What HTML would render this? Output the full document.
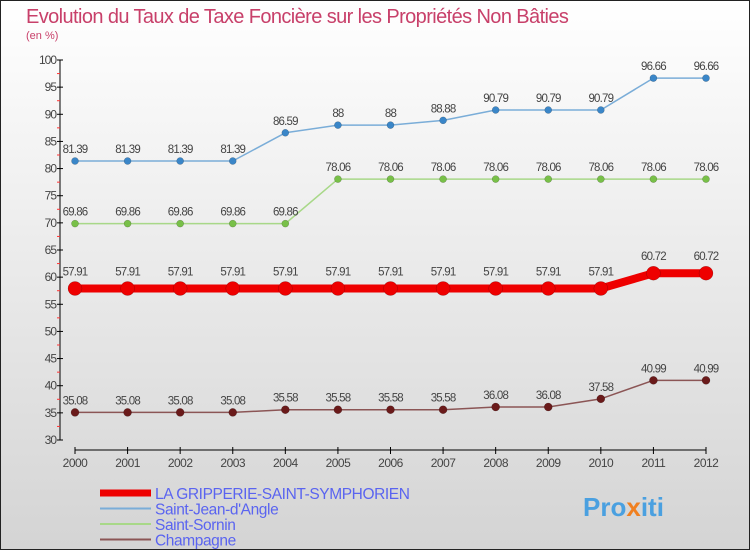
<!DOCTYPE html>
<html><head><meta charset="utf-8"><style>
html,body{margin:0;padding:0}
body{width:750px;height:550px;overflow:hidden;font-family:"Liberation Sans",sans-serif}
</style></head><body>
<svg width="750" height="550" xmlns="http://www.w3.org/2000/svg">
<defs><linearGradient id="bg" x1="0" y1="0" x2="0" y2="1"><stop offset="0" stop-color="#ffffff"/><stop offset="1" stop-color="#d4d4d4"/></linearGradient></defs>
<rect x="0.5" y="0.5" width="749" height="549" fill="url(#bg)" stroke="#222"/>
<text x="26" y="23" font-size="20" fill="#c8406a" letter-spacing="-0.6">Evolution du Taux de Taxe Foncière sur les Propriétés Non Bâties</text>
<text x="26" y="39" font-size="11" fill="#c8406a">(en %)</text>
<g id="axes"></g>
<g id="series"></g>
<g id="legend"></g>
<text x="583" y="516" font-size="26" font-weight="bold" fill="#4aa0e0">Pro<tspan fill="#f08020">x</tspan>iti</text>
</svg>
<script>
const years=[2000,2001,2002,2003,2004,2005,2006,2007,2008,2009,2010,2011,2012];
const yTicks=[30,35,40,45,50,55,60,65,70,75,80,85,90,95,100];
const seriesNames=["LA GRIPPERIE-SAINT-SYMPHORIEN","Saint-Jean-d'Angle","Saint-Sornin","Champagne"];
const gripperie=[57.91,57.91,57.91,57.91,57.91,57.91,57.91,57.91,57.91,57.91,57.91,60.72,60.72];
const saintJean=[81.39,81.39,81.39,81.39,86.59,88,88,88.88,90.79,90.79,90.79,96.66,96.66];
const saintSornin=[69.86,69.86,69.86,69.86,69.86,78.06,78.06,78.06,78.06,78.06,78.06,78.06,78.06];
const champagne=[35.08,35.08,35.08,35.08,35.58,35.58,35.58,35.58,36.08,36.08,37.58,40.99,40.99];
const NS="http://www.w3.org/2000/svg";
function X(i){return 75+i*(706-75)/12;}
function Y(v){return 440-(v-30)*(380/70);}
function mk(tag,attrs,parent){const e=document.createElementNS(NS,tag);for(const k in attrs)e.setAttribute(k,attrs[k]);parent.appendChild(e);return e;}
const axes=document.getElementById('axes');
let a=mk('line',{x1:60,y1:Y(100),x2:60,y2:440,stroke:'#000','stroke-width':1},axes);


yTicks.forEach((v,k)=>{
 mk('line',{x1:57,x2:63,y1:Y(v),y2:Y(v),stroke:'#000'},axes);
 if(k<yTicks.length-1) mk('line',{x1:57,x2:60,y1:Y(v+2.5),y2:Y(v+2.5),stroke:'#f33'},axes);
 const t=mk('text',{x:56,y:Y(v)+4,'font-size':12,'text-anchor':'end',fill:'#444','letter-spacing':'-1'},axes);
 t.textContent=v;
 
 
});
a=mk('line',{x1:75,y1:450,x2:706,y2:450,stroke:'#000'},axes);


years.forEach((y,i)=>{
 mk('line',{x1:X(i),x2:X(i),y1:447,y2:454,stroke:'#000'},axes);
 const t=mk('text',{x:X(i),y:467,'font-size':12,'text-anchor':'middle',fill:'#444','letter-spacing':'-0.5'},axes);
 t.textContent=y;
 
 
});
const sg=document.getElementById('series');
function draw(data,name,color,dot,w,r,labelDy){
 const g=mk('g',{},sg);
 
 
 const pts=data.map((v,i)=>X(i)+','+Y(v)).join(' ');
 mk('polyline',{points:pts,fill:'none',stroke:color,'stroke-width':w,'stroke-linejoin':'round'},g);
 data.forEach((v,i)=>{
  const c=mk('circle',{cx:X(i),cy:Y(v),r:r,fill:dot,stroke:'rgba(0,0,0,0.3)','stroke-width':0.5},g);
  
  
  const t=mk('text',{x:X(i),y:Y(v)+labelDy,'font-size':11.5,'text-anchor':'middle',fill:'#444','letter-spacing':'-0.8'},g);
  t.textContent=v;
  
  
 });
}
draw(saintJean,'saint-jean-d-angle','#7aadd8','#3a86c8',1.5,3.5,-8);
draw(saintSornin,'saint-sornin','#a8d888','#78c048',1.5,3.5,-8);
draw(champagne,'champagne','#8b5555','#6a1a1a',1.5,4,-8);
draw(gripperie,'la-gripperie','#ee0000','#ee0000',8,7,-13);
const lg=document.getElementById('legend');
const lc=['#ee0000','#7aadd8','#a8d888','#8b5555'],lw=[7,2,2,2];
seriesNames.forEach((n,k)=>{
 const y=493+k*15.5;
 const g=mk('g',{},lg);
 
 
 mk('line',{x1:100,x2:151,y1:y,y2:y,stroke:lc[k],'stroke-width':lw[k]},g);
 const t=mk('text',{x:155,y:y+6,'font-size':15.5,fill:'#5a64f0','letter-spacing':'-0.4'},g);
 t.textContent=n;
});
</script>
</body></html>
